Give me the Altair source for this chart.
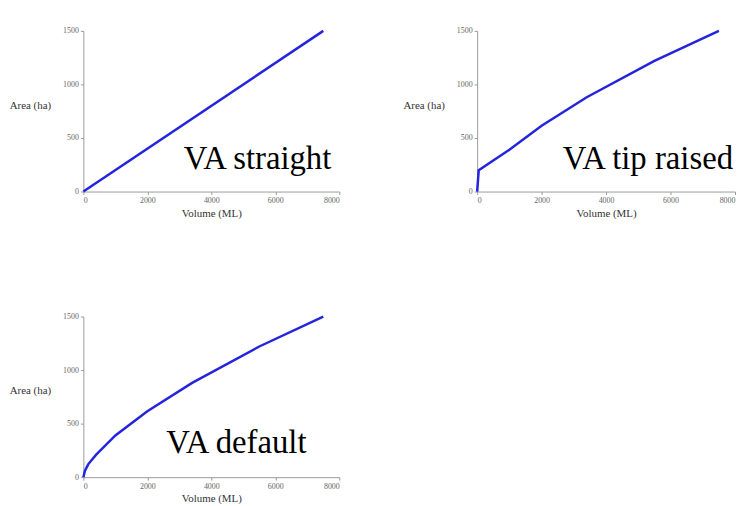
import altair as alt
import pandas as pd

# Data
straight_vol = [0, 7500]
straight_area = [0, 1500]

tip_vol = [0, 50, 1000, 2000, 3400, 5500, 7500]
tip_area = [0, 200, 390, 615, 880, 1220, 1500]

default_vol = [0, 50, 150, 400, 1000, 2000, 3400, 5500, 7500]
default_area = [0, 60, 120, 210, 390, 615, 880, 1220, 1500]

labels = ["VA straight", "VA tip raised", "VA default"]
x_ticks = [0, 2000, 4000, 6000, 8000]
y_ticks = [0, 500, 1000, 1500]

SERIF = "Liberation Serif"
LINE = "#2424dc"

def panel(vol, area, label, text_x, text_y, w):
    df = pd.DataFrame({"Volume": vol, "Area": area})
    x = alt.X("Volume:Q", title="Volume (ML)",
              scale=alt.Scale(domain=[0, 8000], nice=False),
              axis=alt.Axis(values=x_ticks, format="d", titlePadding=3))
    y = alt.Y("Area:Q", title="Area (ha)",
              scale=alt.Scale(domain=[0, 1500], nice=False),
              axis=alt.Axis(values=y_ticks, format="d", titleAngle=0, titleAlign="right",
                            titleBaseline="middle", titleX=-33, titleY=75))
    line = alt.Chart(df).mark_line(color=LINE, strokeWidth=2.5).encode(x=x, y=y)
    txt = alt.Chart(pd.DataFrame({"t": [label]})).mark_text(
        font=SERIF, fontSize=33, align="right", baseline="alphabetic", color="black"
    ).encode(text="t:N", x=alt.value(text_x), y=alt.value(text_y))
    return alt.layer(line, txt).properties(width=w, height=162)

p1 = panel(straight_vol, straight_area, labels[0], 250, 139, 258)
p2 = panel(tip_vol, tip_area, labels[1], 258, 139, 260)
p3 = panel(default_vol, default_area, labels[2], 225, 138, 258)

chart = alt.vconcat(
    alt.hconcat(p1, p2, spacing=63),
    p3,
    spacing=94,
).properties(
    padding={"left": 1, "top": 16, "right": 0, "bottom": 0},
    background="white",
).configure_view(stroke=None).configure_axis(
    grid=False,
    domainColor="#9a9a9a",
    tickColor="#9a9a9a",
    tickSize=3,
    labelFont=SERIF,
    labelFontSize=8,
    labelColor="#666666",
    labelPadding=2,
    titleFont=SERIF,
    titleFontSize=11,
    titleFontWeight="normal",
    titleColor="#333333",
)

chart.save("out.html", embed_options={"renderer": "svg", "actions": False})
